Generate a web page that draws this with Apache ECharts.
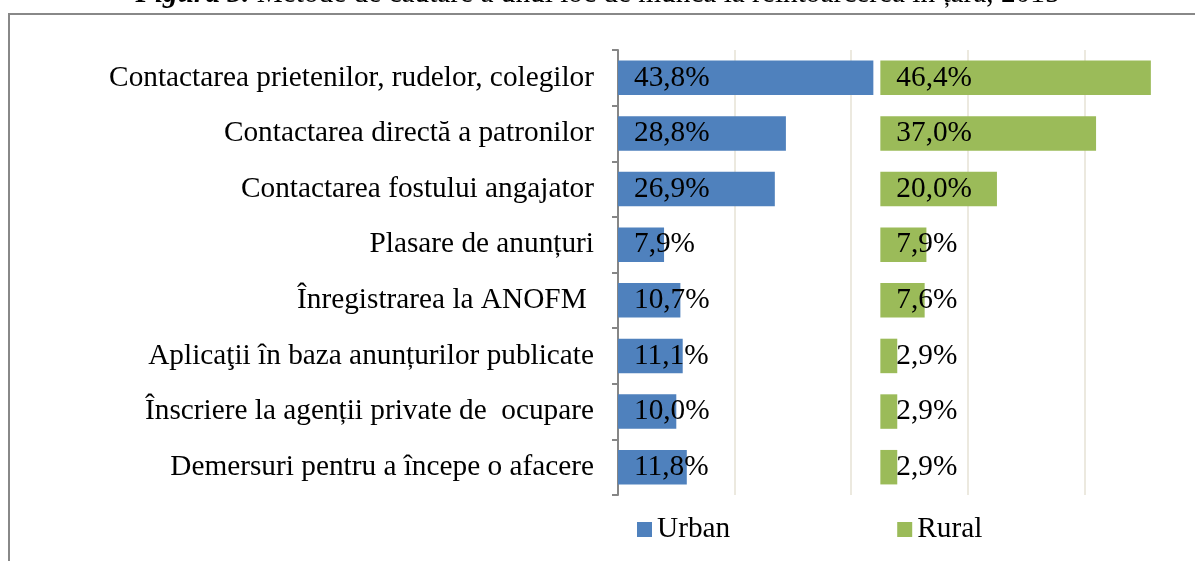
<!DOCTYPE html>
<html>
<head>
<meta charset="utf-8">
<script src="https://cdn.jsdelivr.net/npm/echarts@6/dist/echarts.min.js"></script>
<style>
html,body{margin:0;padding:0;background:#fff;}
#c{width:1195px;height:561px;}
</style>
</head>
<body>
<div id="c"></div>
<script>
const categories = [
  'Contactarea prietenilor, rudelor, colegilor',
  'Contactarea directă a patronilor',
  'Contactarea fostului angajator',
  'Plasare de anunțuri',
  'Înregistrarea la ANOFM ',
  'Aplicaţii în baza anunțurilor publicate',
  'Înscriere la agenții private de  ocupare',
  'Demersuri pentru a începe o afacere'
];
const urban = [43.8, 28.8, 26.9, 7.9, 10.7, 11.1, 10.0, 11.8];
const rural = [46.4, 37.0, 20.0, 7.9, 7.6, 2.9, 2.9, 2.9];
const ruralOffset = 45;
const spacer = urban.map(v => +(ruralOffset - v).toFixed(2));

const FONT = '"Times New Roman", "Liberation Serif", serif';
const FS = 29.3;
const fmt = p => p.value.toFixed(1).replace('.', ',') + '%';

const chart = echarts.init(document.getElementById('c'));
chart.setOption({
  animation: false,
  title: {
    text: '{b|Figura 3.} Metode de căutare a unui loc de muncă la reîntoarcerea în țară, 2015',
    left: 'center',
    top: -25,
    textStyle: {
      fontFamily: FONT, fontSize: FS, fontWeight: 'normal', color: '#000',
      rich: { b: { fontFamily: FONT, fontSize: FS, fontWeight: 'bold', fontStyle: 'italic', color: '#000' } }
    }
  },
  graphic: [{
    type: 'rect',
    shape: { x: 9, y: 14, width: 1200, height: 600 },
    style: { fill: 'none', stroke: '#888888', lineWidth: 2 },
    silent: true
  }],
  legend: {
    data: ['Urban', 'Rural'],
    left: 632,
    top: 510,
    itemWidth: 15,
    itemHeight: 15,
    itemGap: 167,
    icon: 'rect',
    textStyle: { fontFamily: FONT, fontSize: FS, color: '#000' }
  },
  grid: { left: 618, width: 583, top: 50, bottom: 66, containLabel: false, outerBoundsMode: 'none' },
  xAxis: {
    type: 'value', min: 0, max: 100, interval: 20,
    axisLabel: { show: false }, axisLine: { show: false }, axisTick: { show: false },
    splitLine: { show: true, lineStyle: { color: '#ECE9DF', width: 2 } }
  },
  yAxis: {
    type: 'category', data: categories, inverse: true,
    axisLine: { show: true, lineStyle: { color: '#868686', width: 2 } },
    axisTick: { show: true, length: 6, lineStyle: { color: '#868686', width: 2 } },
    axisLabel: { margin: 24, fontFamily: FONT, fontSize: FS, color: '#000' }
  },
  series: [
    {
      name: 'Urban', type: 'bar', stack: 's', data: urban, barWidth: '62%',
      itemStyle: { color: '#4F81BD' },
      label: { show: true, position: 'insideLeft', distance: 16, formatter: fmt,
        fontFamily: FONT, fontSize: FS, color: '#000' }
    },
    {
      name: 'gap', type: 'bar', stack: 's', data: spacer,
      itemStyle: { color: 'rgba(0,0,0,0)' }, silent: true, label: { show: false }
    },
    {
      name: 'Rural', type: 'bar', stack: 's', data: rural,
      itemStyle: { color: '#9BBB59' },
      label: { show: true, position: 'insideLeft', distance: 16, formatter: fmt,
        fontFamily: FONT, fontSize: FS, color: '#000' }
    }
  ]
});
</script>
</body>
</html>
